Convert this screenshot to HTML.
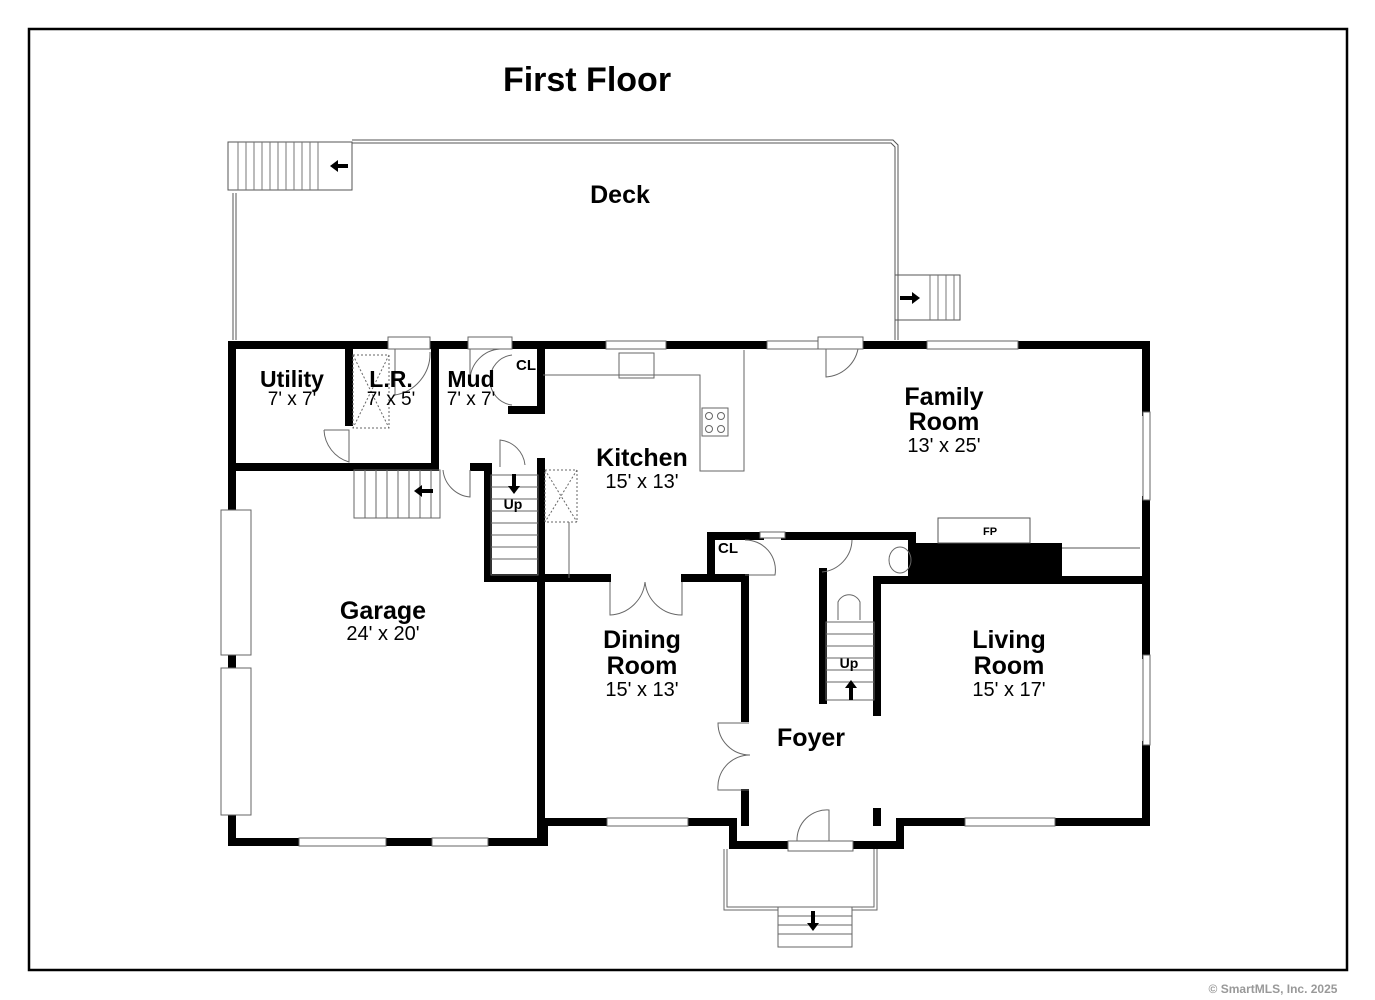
<!DOCTYPE html>
<html><head><meta charset="utf-8"><style>
html,body{margin:0;padding:0;background:#fff;width:1375px;height:1000px;overflow:hidden}
svg{display:block}
text{font-family:"Liberation Sans",sans-serif;fill:#000;text-anchor:middle}
.b{font-weight:bold}
</style></head><body>
<svg width="1375" height="1000" viewBox="0 0 1375 1000">
<rect x="29" y="29" width="1318" height="941" fill="none" stroke="#000" stroke-width="2.5"/>
<text x="587" y="91" class="b" font-size="34">First Floor</text>

<!-- deck -->
<g fill="none" stroke="#555" stroke-width="1">
<path d="M352 140 H893 L898 145 V340"/><path d="M352 143 H891 L895 147 V340"/>
<path d="M233 193 V340"/><path d="M236 193 V340"/>
<rect x="228" y="142" width="124" height="48"/>
<rect x="895" y="275" width="65" height="45"/>
</g>
<g stroke="#777" stroke-width="1">
<path d="M238 142V190M246 142V190M254 142V190M262 142V190M270 142V190M278 142V190M286 142V190M294 142V190M302 142V190M310 142V190M318 142V190"/>
<path d="M930 275V320M938 275V320M946 275V320M954 275V320"/>
</g>
<text x="620" y="203" class="b" font-size="25">Deck</text>
<path d="M348 166 h-12" stroke="#000" stroke-width="4"/><path d="M330 166 l8 -6 v12z"/>
<path d="M900 298 h12" stroke="#000" stroke-width="4"/><path d="M920 298 l-8 -6 v12z"/>

<!-- walls -->
<g stroke="#000" stroke-width="8" fill="none" stroke-linecap="square">
<path d="M232 345 H388 M430 345 H468 M512 345 H606 M666 345 H767 M818 345 H927 M1018 345 H1146 V412 M1146 500 V655 M1146 745 V822 H1055 M965 822 H900 V845 H853 M788 845 H733 V822 H688 M607 822 H544 V842 H488 M432 842 H386 M299 842 H232 V815 M232 668 V655 M232 510 V345"/>
<path d="M232 467 H347 M355 467 H435 V345 M349 345 V422"/>
<path d="M541 345 V410 H512"/>
<path d="M474 467 H488 V578 H541 M541 462 V842"/>
<path d="M541 578 H607 M685 578 H745 V718 M745 793 V822"/>
<path d="M711 578 V536 H760 M785 536 H912 V578"/>
<path d="M823 572 V700"/>
<path d="M877 712 V580 H1146"/>
<path d="M877 812 V822"/>
</g>
<rect x="915" y="543" width="147" height="35" fill="#000"/>
<rect x="938" y="518" width="92" height="25" fill="none" stroke="#555"/>
<text x="990" y="535" class="b" font-size="11">FP</text>
<path d="M1062 548 H1140" stroke="#555"/>

<!-- windows -->
<g fill="#fff" stroke="#666" stroke-width="1">
<rect x="606" y="341" width="60" height="8"/><rect x="767" y="341" width="51" height="8"/><rect x="927" y="341" width="91" height="8"/>
<rect x="1143" y="412" width="7" height="88"/><rect x="1143" y="655" width="7" height="90"/>
<rect x="965" y="818" width="90" height="8"/><rect x="607" y="818" width="81" height="8"/>
<rect x="299" y="838" width="87" height="8"/><rect x="432" y="838" width="56" height="8"/>
<rect x="221" y="510" width="30" height="145"/><rect x="221" y="668" width="30" height="147"/>
<rect x="388" y="337" width="42" height="12"/><rect x="468" y="337" width="44" height="12"/><rect x="818" y="337" width="45" height="12"/>
<rect x="788" y="841" width="65" height="10"/>
<rect x="760" y="532" width="25" height="6"/>
</g>
<!-- door swings -->
<g fill="none" stroke="#666" stroke-width="1">
<path d="M395 349 V395 A42 42 0 0 0 430 352"/>
<path d="M324 430 H349 V462 A35 35 0 0 1 324 430"/>
<path d="M470 349 V380 M470 380 A32 32 0 0 1 500 349"/>
<path d="M512 355 A25 25 0 0 0 490 380 A25 25 0 0 0 512 405"/>
<path d="M443 470 A30 30 0 0 0 470 497 V470"/>
<path d="M500 467 V440 A28 28 0 0 1 525 465"/>
<path d="M826 349 V377 A35 35 0 0 0 858 349"/>
<path d="M610 582 V615 A37 37 0 0 0 645 582 M645 582 A37 37 0 0 0 682 615 V582"/>
<path d="M749 723 H718 A32 32 0 0 0 750 755 A32 32 0 0 0 718 790 H749"/>
<path d="M745 540 A30 30 0 0 1 775 575 H745"/>
<path d="M852 540 A33 33 0 0 1 822 572"/>
<path d="M829 841 V810 A30 30 0 0 0 797 841"/>
<path d="M543 375 H700 V471 H744 V350"/><path d="M619 353 h35 v25 h-35z"/>
<rect x="702" y="408" width="26" height="28"/>
<circle cx="709" cy="416" r="3.5"/><circle cx="721" cy="416" r="3.5"/><circle cx="709" cy="429" r="3.5"/><circle cx="721" cy="429" r="3.5"/>
<path d="M545 470 H577 V522 H545Z M545 470 L577 522 M577 470 L545 522" stroke-dasharray="2,2"/>
<path d="M353 355 H389 V428 H353Z M353 355 L389 428 M389 355 L353 428" stroke-dasharray="2,2"/>
<path d="M569 522 V578"/>
<ellipse cx="900" cy="560" rx="11" ry="13"/>
<path d="M838 620 V602 A12 12 0 0 1 860 602 V620"/>
<!-- stairs -->
<rect x="354" y="470" width="86" height="48"/>
<path d="M365 470V518M376 470V518M387 470V518M398 470V518M409 470V518M420 470V518M431 470V518"/>
<rect x="491" y="475" width="47" height="100"/>
<path d="M491 487H538M491 499H538M491 511H538M491 523H538M491 535H538M491 547H538M491 559H538"/>
<rect x="826" y="622" width="48" height="78"/>
<path d="M826 634H874M826 646H874M826 658H874M826 670H874M826 682H874"/>
<!-- porch -->
<path d="M724 849 V910 H778 M727 849 V907 H778 M877 849 V910 H852 M874 849 V907 H852"/>
<rect x="778" y="907" width="74" height="40"/>
<path d="M778 916H852M778 925H852M778 934H852"/>
</g>
<g fill="#000">
<path d="M433 491 h-12" stroke="#000" stroke-width="4"/><path d="M414 491 l8 -6 v12z"/>
<path d="M514 474 v12" stroke="#000" stroke-width="4"/><path d="M514 494 l-6 -8 h12z"/>
<path d="M851 700 v-12" stroke="#000" stroke-width="4"/><path d="M851 680 l-6 8 h12z"/>
<path d="M813 911 v12" stroke="#000" stroke-width="4"/><path d="M813 931 l-6 -8 h12z"/>
</g>

<!-- labels -->
<text x="292" y="387" class="b" font-size="23">Utility</text><text x="292" y="405" font-size="19">7' x 7'</text>
<text x="391" y="387" class="b" font-size="23">L.R.</text><text x="391" y="405" font-size="19">7' x 5'</text>
<text x="471" y="387" class="b" font-size="23">Mud</text><text x="471" y="405" font-size="19">7' x 7'</text>
<text x="526" y="370" class="b" font-size="15">CL</text>
<text x="642" y="466" class="b" font-size="25">Kitchen</text><text x="642" y="488" font-size="20">15' x 13'</text>
<text x="944" y="405" class="b" font-size="25">Family</text><text x="944" y="430" class="b" font-size="25">Room</text><text x="944" y="452" font-size="20">13' x 25'</text>
<text x="383" y="619" class="b" font-size="25">Garage</text><text x="383" y="640" font-size="20">24' x 20'</text>
<text x="642" y="648" class="b" font-size="25">Dining</text><text x="642" y="674" class="b" font-size="25">Room</text><text x="642" y="696" font-size="20">15' x 13'</text>
<text x="1009" y="648" class="b" font-size="25">Living</text><text x="1009" y="674" class="b" font-size="25">Room</text><text x="1009" y="696" font-size="20">15' x 17'</text>
<text x="811" y="746" class="b" font-size="25">Foyer</text>
<text x="728" y="553" class="b" font-size="15">CL</text>
<text x="513" y="509" class="b" font-size="14">Up</text>
<text x="849" y="668" class="b" font-size="14">Up</text>
<text x="1273" y="993" font-size="12" class="b" style="fill:#999">© SmartMLS, Inc.  2025</text>
</svg>
</body></html>
